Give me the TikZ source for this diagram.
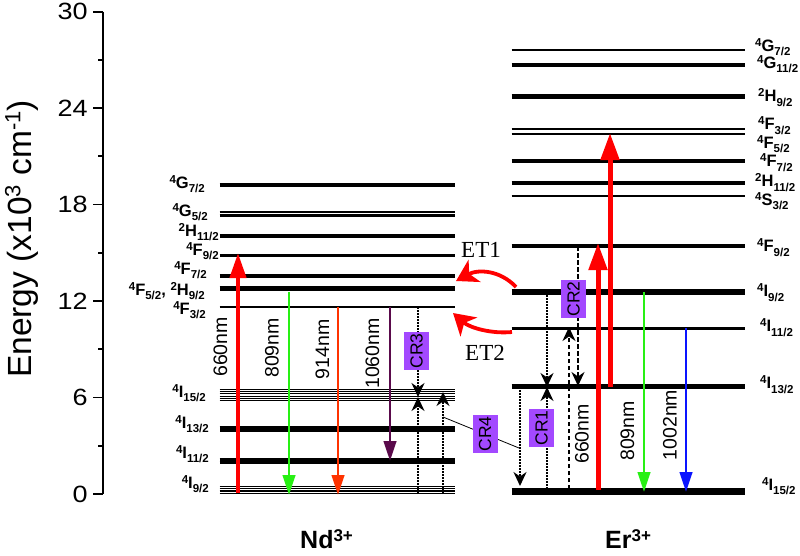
\documentclass[tikz,border=0pt]{standalone}
\usepackage{fontspec}
\setmainfont{Liberation Sans}
\newfontfamily\seriffont{Liberation Serif}
\usetikzlibrary{arrows.meta}
\definecolor{crviolet}{RGB}{163,73,255}
\definecolor{myred}{RGB}{255,0,0}
\definecolor{myorange}{RGB}{255,51,0}
\definecolor{mygreen}{RGB}{40,240,20}
\definecolor{myblue}{RGB}{10,20,255}
\definecolor{mypurple}{RGB}{90,10,75}
\newcommand{\LS}[3]{\raisebox{5pt}{\fontsize{11.5}{13}\selectfont #1}#2\raisebox{-4.5pt}{\fontsize{11.5}{13}\selectfont #3}}
\newcommand{\ndl}[2]{\draw[line width=#2] (219.5,#1) -- (454.5,#1);}
\newcommand{\erl}[2]{\draw[line width=#2] (511.5,#1) -- (745,#1);}
\begin{document}
\begin{tikzpicture}[x=1pt,y=-1pt,
  nlab/.style={anchor=base east,inner sep=0pt,font=\bfseries\fontsize{16.5}{19}\selectfont},
  elab/.style={anchor=base west,inner sep=0pt,font=\bfseries\fontsize{16.5}{19}\selectfont},
  wl/.style={rotate=90,inner sep=0pt,font=\fontsize{19.5}{22}\selectfont},
  crbox/.style={fill=crviolet,rotate=90,minimum width=38pt,minimum height=25pt,inner sep=0pt,font=\fontsize{17.5}{20}\selectfont},
  ticklab/.style={anchor=east,inner sep=0pt,xscale=1.15,font=\fontsize{23.5}{26}\selectfont},
  pumpnd/.style={myred,line width=4.2pt,-{Triangle[length=25pt,width=16pt]}},
  pumper/.style={myred,line width=5pt,-{Triangle[length=27pt,width=18pt]}},
  emis/.style={line width=2.8pt,-{Triangle[length=20pt,width=12.5pt]}},
  dotl/.style={line width=1.8pt,dash pattern=on 1.6pt off 1.4pt,-{Stealth[length=14pt,width=13pt,inset=4.5pt]}},
  dashl/.style={line width=2pt,dash pattern=on 4.5pt off 2.5pt,-{Stealth[length=14pt,width=13pt,inset=4.5pt]}},
  etarrow/.style={myred,line width=3.8pt,-{Stealth[length=21pt,width=25pt,inset=6pt]}},
  ionlab/.style={anchor=base west,inner sep=0pt,font=\bfseries\fontsize{25}{28}\selectfont}
]
\useasboundingbox (0,0) rectangle (800,555);

% axis
\draw[line width=1.8pt] (103,11.6) -- (103,494);
\foreach \e in {0,6,...,30}{
  \draw[line width=1.8pt] (93,{494-\e*16.08}) -- (103,{494-\e*16.08});
  \node[ticklab] (t\e) at (88,{494-\e*16.08}) {\e};
}
\foreach \e in {3,9,...,27}{
  \draw[line width=1.8pt] (98,{494-\e*16.08}) -- (103,{494-\e*16.08});
}
\node[rotate=90,anchor=center,inner sep=0pt,font=\fontsize{33.5}{38}\selectfont] (ylab) at (22,239)
  {Energy (x10\raisebox{11.5pt}{\fontsize{22}{25}\selectfont 3} cm\raisebox{11.5pt}{\fontsize{22}{25}\selectfont -1})};

% Nd levels
\ndl{185}{4pt}
\ndl{211.8}{2.2pt}
\ndl{215.4}{2.4pt}
\ndl{236}{4pt}
\ndl{255}{3pt}
\ndl{276}{4pt}
\ndl{288.5}{5.5pt}
\ndl{307}{2pt}
\foreach \yy in {389.5,391.7,393.9,396.1,398.3,400.5}{\ndl{\yy}{1.1pt}}
\ndl{428.5}{6pt}
\ndl{459.3}{2.6pt}
\ndl{462.7}{2.6pt}
\foreach \yy in {486.5,488.8,491.1,493.4}{\ndl{\yy}{1.3pt}}

% Er levels
\erl{50}{2pt}
\erl{65}{3.3pt}
\erl{96.7}{5pt}
\erl{128.7}{2pt}
\erl{134.3}{2pt}
\erl{161}{3.5pt}
\erl{183.3}{4pt}
\erl{195.7}{2pt}
\erl{246}{3.5pt}
\erl{292.3}{6pt}
\erl{328.3}{2.5pt}
\erl{386.7}{5pt}
\erl{491.5}{7.5pt}

% Nd labels
\node[nlab] (nd1) at (205,188) {\LS{4}{G}{7/2}};
\node[nlab] (nd2) at (208,216) {\LS{4}{G}{5/2}};
\node[nlab] (nd3) at (219,236) {\LS{2}{H}{11/2}};
\node[nlab] (nd4) at (219,255) {\LS{4}{F}{9/2}};
\node[nlab] (nd5) at (207,274) {\LS{4}{F}{7/2}};
\node[nlab] (nd6) at (205,295) {\LS{4}{F}{5/2}, \LS{2}{H}{9/2}};
\node[nlab] (nd7) at (206,314) {\LS{4}{F}{3/2}};
\node[nlab] (nd8) at (206,397) {\LS{4}{I}{15/2}};
\node[nlab] (nd9) at (209,428) {\LS{4}{I}{13/2}};
\node[nlab] (nd10) at (209,458) {\LS{4}{I}{11/2}};
\node[nlab] (nd11) at (209,488) {\LS{4}{I}{9/2}};

% Er labels
\node[elab] (er1) at (755,51) {\LS{4}{G}{7/2}};
\node[elab] (er2) at (757,68) {\LS{4}{G}{11/2}};
\node[elab] (er3) at (758,101.5) {\LS{2}{H}{9/2}};
\node[elab] (er4) at (758,129.5) {\LS{4}{F}{3/2}};
\node[elab] (er5) at (757,148) {\LS{4}{F}{5/2}};
\node[elab] (er6) at (760,166.5) {\LS{4}{F}{7/2}};
\node[elab] (er7) at (755,186.5) {\LS{2}{H}{11/2}};
\node[elab] (er8) at (755,205) {\LS{4}{S}{3/2}};
\node[elab] (er9) at (757,251.5) {\LS{4}{F}{9/2}};
\node[elab] (er10) at (757,296.5) {\LS{4}{I}{9/2}};
\node[elab] (er11) at (760,331.5) {\LS{4}{I}{11/2}};
\node[elab] (er12) at (760,388.5) {\LS{4}{I}{13/2}};
\node[elab] (er13) at (762,490) {\LS{4}{I}{15/2}};

% Nd transitions
\draw[pumpnd] (238,493) -- (238,253);
\draw[emis,mygreen] (289,292) -- (289,495);
\draw[emis,myorange] (338,307) -- (338,495);
\draw[emis,mypurple] (390,307) -- (390,461);
\node[wl] (w1) at (220.5,347) {660nm};
\node[wl] (w2) at (272,348) {809nm};
\node[wl] (w3) at (322.5,349.5) {914nm};
\node[wl] (w4) at (372.5,353.5) {1060nm};

% cross relaxation (Nd)
\draw[dotl] (418,307) -- (418,397);
\draw[dotl] (418,494) -- (418,397);
\draw[dotl] (443,494) -- (443,392);

% Er transitions
\draw[pumper] (598,490) -- (598,243);
\draw[pumper] (610,387) -- (610,133);
\draw[emis,mygreen] (644,292) -- (644,492);
\draw[emis,myblue] (686,328) -- (686,492);
\node[wl] (w5) at (582,434) {660nm};
\node[wl] (w6) at (627.5,431) {809nm};
\node[wl] (w7) at (670,425) {1002nm};

% cross relaxation (Er)
\draw[dotl] (520,387) -- (520,486);
\draw[dotl] (547,292) -- (547,387);
\draw[dotl] (547,489) -- (547,387);
\draw[dashl] (578,246) -- (578,386);
\draw[dashl] (569,489) -- (569,327);

% CR4 connector
\coordinate (c4a) at (443,417);
\coordinate (c4b) at (519,448);
\draw[line width=0.8pt] (c4a) -- (c4b);

% CR boxes
\node[crbox] (cr3) at (416.5,351) {CR3};
\node[crbox] (cr4) at (485,434) {CR4};
\node[crbox] (cr1) at (541.5,428) {CR1};
\node[crbox] (cr2) at (573.5,299) {CR2};

% energy transfer
\draw[etarrow] (516,287) .. controls (500,270) and (478,269) .. (456,281);
\draw[etarrow] (512,332) .. controls (492,334) and (470,328) .. (453,313);
\node[font=\seriffont\fontsize{23}{26}\selectfont,inner sep=0pt] (et1) at (481,250) {ET1};
\node[font=\seriffont\fontsize{23}{26}\selectfont,inner sep=0pt] (et2) at (485,353) {ET2};

% ion labels
\node[ionlab] (nd) at (300,548) {Nd\raisebox{7pt}{\fontsize{17}{19}\selectfont 3+}};
\node[ionlab] (er) at (605,548) {Er\raisebox{7pt}{\fontsize{17}{19}\selectfont 3+}};
\end{tikzpicture}
\end{document}
